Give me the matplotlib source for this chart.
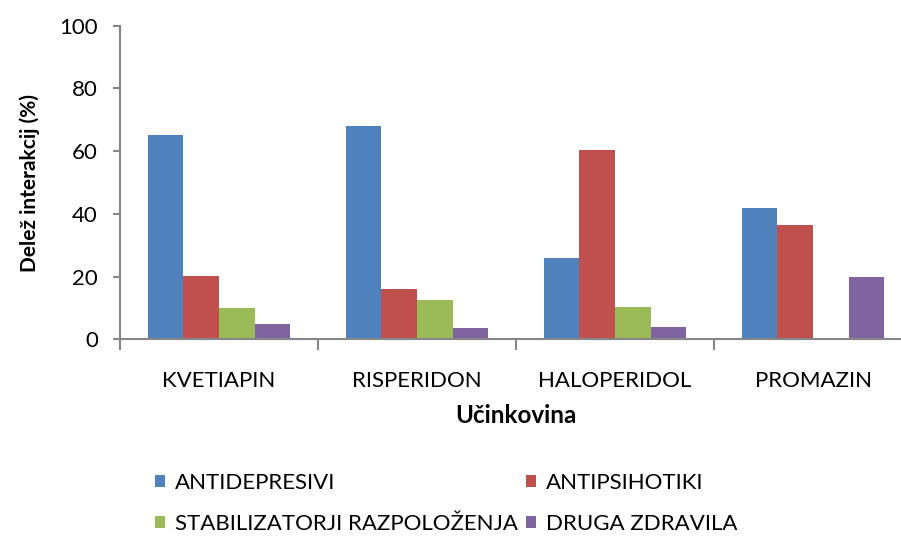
import matplotlib
matplotlib.use("Agg")
import matplotlib.pyplot as plt
import numpy as np

plt.rcParams['font.family'] = ['Lato', 'DejaVu Sans']

categories = ["KVETIAPIN", "RISPERIDON", "HALOPERIDOL", "PROMAZIN"]
series_names = ["ANTIDEPRESIVI", "ANTIPSIHOTIKI",
                "STABILIZATORJI RAZPOLOŽENJA", "DRUGA ZDRAVILA"]
antidepresivi = [65.1, 68.1, 25.8, 42.0]
antipsihotiki = [20.1, 16.0, 60.4, 36.4]
stabilizatorji = [10.1, 12.5, 10.2, 0.0]
druga = [4.9, 3.6, 3.8, 19.8]
colors = ["#4f81bd", "#c0504d", "#9bbb59", "#8064a2"]

fig = plt.figure(figsize=(9.01, 5.36), dpi=100)
ax = fig.add_axes([120 / 901, 0.367, 792 / 901, 0.585])

x = np.arange(len(categories))
w = 0.18
values = [antidepresivi, antipsihotiki, stabilizatorji, druga]
bars = []
for i, (vals, name, c) in enumerate(zip(values, series_names, colors)):
    bars.append(ax.bar(x + (i - 1.5) * w, vals, w, color=c, label=name, edgecolor='none'))

ax.set_xlim(-0.5, len(categories) - 0.5)
ax.set_ylim(0, 100)
ax.set_yticks([0, 20, 40, 60, 80, 100])
ax.set_xticks(x)
ax.set_xticklabels(categories)
ax.set_xticks(np.arange(len(categories) + 1) - 0.5, minor=True)
ax.tick_params(axis='x', which='major', length=0, pad=23, labelsize=16)
ax.tick_params(axis='x', which='minor', length=8, width=1.5, color='#868686')
ax.tick_params(axis='y', length=5, width=1.5, color='#868686', labelsize=16, pad=11)

for s in ['top', 'right']:
    ax.spines[s].set_visible(False)
for s in ['left', 'bottom']:
    ax.spines[s].set_color('#868686')
    ax.spines[s].set_linewidth(1.5)

ax.set_xlabel("Učinkovina", fontsize=17.5, fontweight='bold', labelpad=9)
ax.set_ylabel("Delež interakcij (%)", fontsize=15, fontweight='bold', labelpad=14)

# row-wise legend order
order = [0, 2, 1, 3]
fig.legend([bars[i] for i in order], [series_names[i] for i in order],
           loc='upper left', bbox_to_anchor=(146 / 901, 1 - 464 / 536), ncol=2,
           frameon=False, fontsize=16, handlelength=0.45, handleheight=0.45,
           handletextpad=0.45, columnspacing=0.35, labelspacing=0.95,
           borderaxespad=0)

fig.savefig("out.png", dpi=100)
